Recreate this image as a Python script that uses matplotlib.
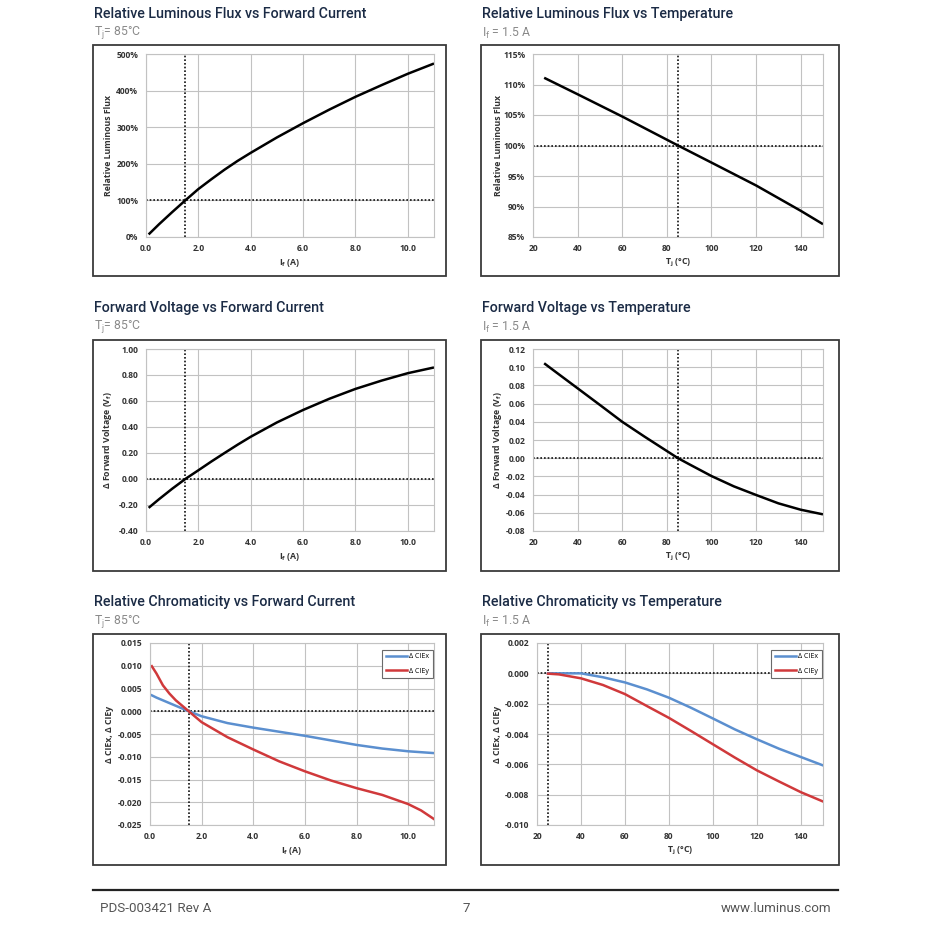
import matplotlib
matplotlib.use("Agg")
import matplotlib.pyplot as plt
from matplotlib.patches import Rectangle
from matplotlib.lines import Line2D

# ---------------- data ----------------
flux_if = [0.1, 0.5, 1.0, 1.5, 2.0, 2.5, 3.0, 3.5, 4.0, 5.0, 6.0, 7.0, 8.0, 9.0, 10.0, 11.0]
flux_if_val = [7, 35, 68, 100, 131, 158, 184, 208, 230, 272, 311, 348, 383, 415, 446, 474]

flux_t = [25, 40, 60, 80, 85, 100, 120, 140, 150]
flux_t_val = [111.1, 108.4, 104.75, 100.95, 100.0, 97.2, 93.45, 89.3, 87.1]

vf_if = [0.1, 0.5, 1.0, 1.5, 2.0, 2.5, 3.0, 3.5, 4.0, 5.0, 6.0, 7.0, 8.0, 9.0, 10.0, 11.0]
vf_if_val = [-0.222, -0.155, -0.075, 0.0, 0.067, 0.135, 0.200, 0.264, 0.325, 0.435, 0.531, 0.617, 0.693, 0.757, 0.814, 0.858]

vf_t = [25, 30, 40, 50, 60, 70, 80, 85, 90, 100, 110, 120, 130, 140, 150]
vf_t_val = [0.1043, 0.0951, 0.0768, 0.0585, 0.0400, 0.0237, 0.0079, 0.0, -0.0066, -0.0196, -0.0309, -0.0404, -0.0496, -0.0566, -0.0617]

cie_if = [0.07, 0.25, 0.5, 0.75, 1.0, 1.5, 2.0, 3.0, 4.0, 5.0, 6.0, 7.0, 8.0, 9.0, 10.0, 10.5, 11.0]
cie_if_x = [0.0035, 0.0030, 0.0024, 0.0018, 0.0012, 0.0, -0.0011, -0.0026, -0.0036, -0.0045, -0.0054,
            -0.0064, -0.0074, -0.0082, -0.0088, -0.0090, -0.0092]
cie_if_y = [0.0099, 0.0083, 0.0057, 0.0039, 0.0024, 0.0, -0.0024, -0.0057, -0.0084, -0.0110, -0.0132,
            -0.0152, -0.0169, -0.0184, -0.0204, -0.0218, -0.0237]

cie_t = [25, 30, 40, 50, 60, 70, 80, 90, 100, 110, 120, 130, 140, 150]
cie_t_x = [0.0, 0.0, 0.0, -0.00026, -0.0006, -0.00106, -0.00161, -0.00227, -0.00298, -0.0037, -0.00435,
           -0.00497, -0.00552, -0.00607]
cie_t_y = [-0.00002, -0.00007, -0.00033, -0.00077, -0.00137, -0.00216, -0.00294, -0.0038, -0.00468,
           -0.00556, -0.0064, -0.00713, -0.00784, -0.00845]

titles = ["Relative Luminous Flux vs Forward Current", "Relative Luminous Flux vs Temperature",
          "Forward Voltage vs Forward Current", "Forward Voltage vs Temperature",
          "Relative Chromaticity vs Forward Current", "Relative Chromaticity vs Temperature"]
subtitle_tj = r"T$_\mathregular{j}$= 85°C"
subtitle_if = r"I$_\mathregular{f}$ = 1.5 A"

x_if_ticks = [0, 2, 4, 6, 8, 10]
x_if_labels = ["0.0", "2.0", "4.0", "6.0", "8.0", "10.0"]
x_t_ticks = [20, 40, 60, 80, 100, 120, 140]
x_t_labels = ["20", "40", "60", "80", "100", "120", "140"]

flux_if_ticks = [0, 100, 200, 300, 400, 500]
flux_if_labels = ["0%", "100%", "200%", "300%", "400%", "500%"]
flux_t_ticks = [85, 90, 95, 100, 105, 110, 115]
flux_t_labels = ["85%", "90%", "95%", "100%", "105%", "110%", "115%"]
vf_if_ticks = [-0.4, -0.2, 0.0, 0.2, 0.4, 0.6, 0.8, 1.0]
vf_if_labels = ["-0.40", "-0.20", "0.00", "0.20", "0.40", "0.60", "0.80", "1.00"]
vf_t_ticks = [-0.08, -0.06, -0.04, -0.02, 0.0, 0.02, 0.04, 0.06, 0.08, 0.10, 0.12]
vf_t_labels = ["-0.08", "-0.06", "-0.04", "-0.02", "0.00", "0.02", "0.04", "0.06", "0.08", "0.10", "0.12"]
cie_if_ticks = [-0.025, -0.02, -0.015, -0.01, -0.005, 0.0, 0.005, 0.01, 0.015]
cie_if_labels = ["-0.025", "-0.020", "-0.015", "-0.010", "-0.005", "0.000", "0.005", "0.010", "0.015"]
cie_t_ticks = [-0.010, -0.008, -0.006, -0.004, -0.002, 0.0, 0.002]
cie_t_labels = ["-0.010", "-0.008", "-0.006", "-0.004", "-0.002", "0.000", "0.002"]

legend_labels = ["Δ CIEx", "Δ CIEy"]
footer_left = "PDS-003421 Rev A"
footer_mid = "7"
footer_right = "www.luminus.com"

# ---------------- style ----------------
W = 932
TITLE_C = "#1b2b45"
SUB_C = "#8a8a8a"
GRID_C = "#c2c2c2"
TICK_C = "#333333"
BLUE = "#5b8fcf"
RED = "#d0393b"
TFONT = ["Roboto", "DejaVu Sans"]
AFONT = ["Open Sans", "DejaVu Sans"]

fig = plt.figure(figsize=(W / 100, W / 100), dpi=100)
fig.patch.set_facecolor("white")


def fx(px):
    return px / W


def fy(py):
    return 1 - py / W


def rect(x0, y0, x1, y1):
    return [fx(x0), fy(y1), fx(x1) - fx(x0), fy(y0) - fy(y1)]


def box(x0, y0, x1, y1):
    fig.patches.append(Rectangle((fx(x0), fy(y1)), fx(x1) - fx(x0), fy(y0) - fy(y1),
                                 transform=fig.transFigure, fill=False,
                                 edgecolor="#3a3a3a", linewidth=1.3))


def header(x, y, title, sub):
    fig.text(fx(x), fy(y), title, family=TFONT, fontsize=10.3, weight="medium",
             color=TITLE_C, ha="left", va="center")
    fig.text(fx(x), fy(y + 19), sub, family=TFONT, fontsize=8.8, weight="normal",
             color=SUB_C, ha="left", va="center")


def make_ax(r, xlim, xt, xtl, ylim, yt, ytl, xlabel, ylabel, ylab_x):
    ax = fig.add_axes(r)
    ax.set_xlim(*xlim)
    ax.set_ylim(*ylim)
    ax.set_xticks(xt)
    ax.set_xticklabels(xtl)
    ax.set_yticks(yt)
    ax.set_yticklabels(ytl)
    ax.tick_params(axis="y", length=0, pad=5.5, labelsize=6.1, labelcolor=TICK_C)
    ax.tick_params(axis="x", length=0, pad=5.0, labelsize=6.1, labelcolor=TICK_C)
    for lab in ax.get_xticklabels() + ax.get_yticklabels():
        lab.set_family(AFONT)
        lab.set_weight("bold")
    ax.grid(True, color=GRID_C, linewidth=0.8)
    ax.set_axisbelow(True)
    for s in ax.spines.values():
        s.set_color(GRID_C)
        s.set_linewidth(0.8)
    ax.set_xlabel(xlabel, family=AFONT, fontsize=6.3, weight="bold", color=TICK_C, labelpad=3)
    ax.set_ylabel(ylabel, family=AFONT, fontsize=6.3, weight="bold", color=TICK_C)
    ax.yaxis.set_label_coords(ylab_x, 0.5)
    return ax


def ref_lines(ax, xv, yv):
    ax.axvline(xv, color="#111111", linestyle=(0, (1, 1.2)), linewidth=1.2)
    ax.axhline(yv, color="#111111", linestyle=(0, (1, 1.2)), linewidth=1.2)


def add_legend(ax):
    leg = ax.legend(loc="upper right", bbox_to_anchor=(1.0, 0.97), frameon=True,
                    fancybox=False, handlelength=3.0, handletextpad=0.3, borderpad=0.55,
                    labelspacing=1.0, borderaxespad=0.15, prop={"family": AFONT, "size": 5.1})
    leg.get_frame().set_edgecolor("#6a6a6a")
    leg.get_frame().set_linewidth(0.8)
    leg.get_frame().set_alpha(1.0)


xl_if = r"I$_\mathregular{f}$ (A)"
xl_t = r"T$_\mathregular{j}$ (°C)"

# ---------- row 1 ----------
header(94, 14, titles[0], subtitle_tj)
header(482, 14, titles[1], subtitle_if)
box(93, 45, 446, 276)
box(481, 45, 839, 276)

ax = make_ax(rect(146, 54, 434, 237), (0, 11), x_if_ticks, x_if_labels, (0, 500),
             flux_if_ticks, flux_if_labels, xl_if, "Relative Luminous Flux", -0.113)
ref_lines(ax, 1.5, 100)
ax.plot(flux_if, flux_if_val, color="black", linewidth=1.8, solid_capstyle="butt")

ax = make_ax(rect(533, 54, 823, 237), (20, 150), x_t_ticks, x_t_labels, (85, 115),
             flux_t_ticks, flux_t_labels, xl_t, "Relative Luminous Flux", -0.105)
ref_lines(ax, 85, 100)
ax.plot(flux_t, flux_t_val, color="black", linewidth=1.8, solid_capstyle="butt")

# ---------- row 2 ----------
header(94, 308, titles[2], subtitle_tj)
header(482, 308, titles[3], subtitle_if)
box(93, 340, 446, 571)
box(481, 340, 839, 571)

ax = make_ax(rect(146, 349, 434, 531), (0, 11), x_if_ticks, x_if_labels, (-0.4, 1.0),
             vf_if_ticks, vf_if_labels, xl_if, r"Δ Forward Voltage (V$_\mathregular{f}$)", -0.11)
ref_lines(ax, 1.5, 0.0)
ax.plot(vf_if, vf_if_val, color="black", linewidth=1.8, solid_capstyle="butt")

ax = make_ax(rect(533, 349, 823, 531), (20, 150), x_t_ticks, x_t_labels, (-0.08, 0.12),
             vf_t_ticks, vf_t_labels, xl_t, r"Δ Forward Voltage (V$_\mathregular{f}$)", -0.10)
ref_lines(ax, 85, 0.0)
ax.plot(vf_t, vf_t_val, color="black", linewidth=1.8, solid_capstyle="butt")

# ---------- row 3 ----------
header(94, 602, titles[4], subtitle_tj)
header(482, 602, titles[5], subtitle_if)
box(93, 634, 446, 865)
box(481, 634, 839, 865)

ax = make_ax(rect(150, 643, 434, 825), (0, 11), x_if_ticks, x_if_labels, (-0.025, 0.015),
             cie_if_ticks, cie_if_labels, xl_if, "Δ CIEx, Δ CIEy", -0.127)
ref_lines(ax, 1.5, 0.0)
ax.plot(cie_if, cie_if_x, color=BLUE, linewidth=1.8, label=legend_labels[0])
ax.plot(cie_if, cie_if_y, color=RED, linewidth=1.8, label=legend_labels[1])
add_legend(ax)

ax = make_ax(rect(537, 643, 823, 825), (20, 150), x_t_ticks, x_t_labels, (-0.010, 0.002),
             cie_t_ticks, cie_t_labels, xl_t, "Δ CIEx, Δ CIEy", -0.122)
ref_lines(ax, 25, 0.0)
ax.plot(cie_t, cie_t_x, color=BLUE, linewidth=1.8, label=legend_labels[0])
ax.plot(cie_t, cie_t_y, color=RED, linewidth=1.8, label=legend_labels[1])
add_legend(ax)

# ---------- footer ----------
fig.lines.append(Line2D([fx(93), fx(838)], [fy(890), fy(890)], transform=fig.transFigure,
                        color="#222222", linewidth=1.6))
fig.text(fx(100), fy(908), footer_left, family=TFONT, fontsize=9.6, weight="normal",
         color="#555555", ha="left", va="center")
fig.text(fx(466), fy(909), footer_mid, family=TFONT, fontsize=9.6, weight="normal",
         color="#555555", ha="center", va="center")
fig.text(fx(831), fy(908), footer_right, family=TFONT, fontsize=9.6, weight="normal",
         color="#555555", ha="right", va="center")

fig.savefig("out.png", dpi=100, facecolor="white")
